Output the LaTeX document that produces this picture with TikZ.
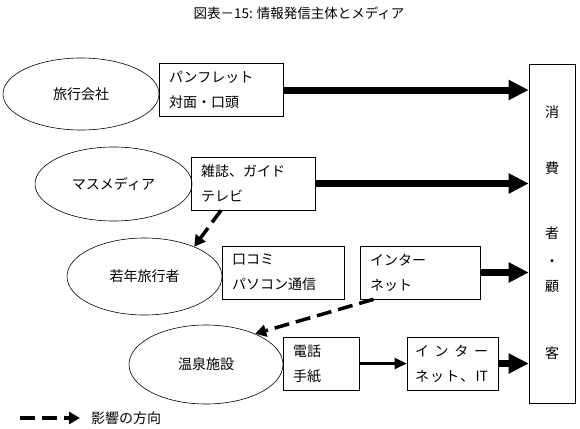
\documentclass[tikz,border=0pt]{standalone}
\usepackage{fontspec}
\setmainfont{Noto Sans CJK JP}
\usetikzlibrary{shapes.geometric,arrows.meta}
\tikzset{
  sender/.style={draw,ellipse,line width=0.6pt,inner sep=0pt},
  media/.style={draw,rectangle,line width=0.6pt,align=left,inner xsep=10pt,inner ysep=0pt,minimum height=53pt},
  mainflow/.style={line width=7pt,-{Triangle[length=20pt,width=19pt]}},
  subflow/.style={line width=2.5pt,-{Triangle[length=12pt,width=11pt]}},
  influence/.style={line width=3.5pt,dash pattern=on 15pt off 7pt,-{Triangle[length=11pt,width=12pt]}}
}
\newcommand{\spreadline}[2]{\makebox[#1][s]{#2}}

\begin{document}
\begin{tikzpicture}[x=1pt,y=-1pt,font=\fontsize{14}{25}\selectfont]
            \useasboundingbox (0,0) rectangle (580,428);
            \node (title) at (299,13) {\fontsize{13.5}{16}\selectfont 図表－15: 情報発信主体とメディア};
            % senders
            \node [sender,minimum width=156pt,minimum height=72pt] (travel) at (81,94) {旅行会社};
            \node [sender,minimum width=157pt,minimum height=74pt] (mass) at (113.5,184) {マスメディア};
            \node [sender,minimum width=155pt,minimum height=77pt] (youth) at (144.5,276.5) {若年旅行者};
            \node [sender,minimum width=154pt,minimum height=79pt] (onsen) at (206,364.5) {温泉施設};
            % media
            \node [media,text width=104pt] (pamph) at (221,90) {パンフレット\\対面・口頭};
            \node [media,text width=104pt] (press) at (253,183.5) {雑誌、ガイド\\テレビ};
            \node [media,text width=102pt] (word) at (283,272.5) {口コミ\\パソコン通信};
            \node [media,text width=100pt] (net) at (420,272.5) {インター\\ネット};
            \node [media,text width=56pt] (mail) at (321,363.5) {電話\\手紙};
            \node [media,text width=75pt,inner xsep=8pt] (netit) at (452.5,363.5) {\spreadline{73pt}{イ\hfil ン\hfil タ\hfil ー}\\\spreadline{73pt}{ネ\hfil ッ\hfil ト\hfil 、\hfil IT}};
            % consumers
            \node [draw,line width=0.6pt,minimum width=46pt,minimum height=339pt,inner sep=0pt] (cons) at (552,233.5) {};
            \node (c1) at (552,112) {消};
            \node (c2) at (552,168) {費};
            \node (c3) at (552,233) {者};
            \node (c4) at (552,263) {・};
            \node (c5) at (552,287) {顧};
            \node (c6) at (552,353) {客};
            % flows
            \draw [mainflow] (pamph) -- (pamph -| cons.west);
            \draw [mainflow] (press) -- (press -| cons.west);
            \draw [mainflow] (net) -- (net -| cons.west);
            \draw [mainflow] (netit) -- (netit -| cons.west);
            \draw [subflow] (mail) -- (netit);
            \draw [influence] (press.220) -- (youth.31);
            \draw [influence] (net.210) -- (onsen.32);
            % legend
            \coordinate (legstart) at (20,418);
            \coordinate (legtip) at (80,418);
            \draw [influence] (legstart) -- (legtip);
            \node [anchor=west,inner sep=0pt] (legtext) at (91,418) {影響の方向};
        \end{tikzpicture}
\end{document}
